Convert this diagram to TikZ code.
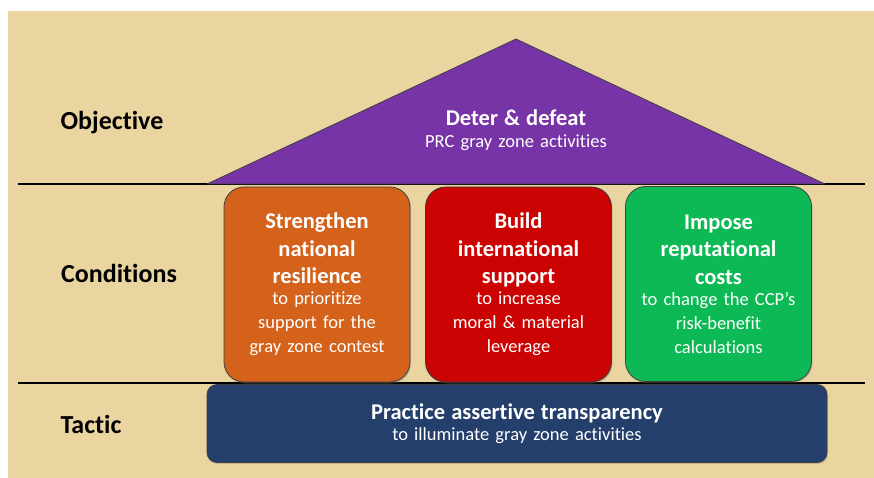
\documentclass[tikz,border=0pt]{standalone}
\usepackage{fontspec}
\setmainfont{Carlito}[Ligatures=NoCommon]
\usetikzlibrary{shadows}
\definecolor{paper}{HTML}{EAD5A0}
\definecolor{roofPurple}{HTML}{7734A6}
\definecolor{pilOrange}{HTML}{D4621A}
\definecolor{pilRed}{HTML}{CC0303}
\definecolor{pilGreen}{HTML}{0DB955}
\definecolor{baseNavy}{HTML}{253F6D}
\newcommand{\headtext}{\fontsize{22.5}{27.5}\selectfont\bfseries}
\newcommand{\subtext}{\fontsize{18.5}{24}\selectfont\mdseries}
\tikzset{
  boxnode/.style = {align=center, inner sep=0pt, text centered, text=white, draw=black!75, line width=0.8pt,
    font=\subtext, drop shadow={opacity=0.35, shadow xshift=1pt, shadow yshift=-1.5pt}},
  % pillars: big rounded boxes, text in white
  pillar_O/.style = {boxnode, rounded corners=20pt, fill=pilOrange, minimum width=186pt, minimum height=195pt, text width=182pt},
  pillar_R/.style = {pillar_O, fill=pilRed},
  pillar_G/.style = {pillar_O, fill=pilGreen},
  base_T/.style = {boxnode, rounded corners=10pt, fill=baseNavy, minimum width=620pt, minimum height=78pt, text width=600pt},
  roof_P/.style = {fill=roofPurple, draw=black!75, line width=0.8pt, line join=round},
  label_L/.style = {anchor=base, inner sep=0pt, font=\fontsize{26}{30}\selectfont\bfseries},
  line_L/.style = {draw=black, line width=1.3pt}
}

\begin{document}
\begin{tikzpicture}[x=1pt,y=-1pt]
    \useasboundingbox (0,0) rectangle (874,478);
    \fill[paper] (8,11) rectangle (874,478);
    % Row rules:
    \coordinate (ruleA_L) at (18,184);
    \coordinate (ruleA_R) at (865,184);
    \coordinate (ruleB_L) at (18,383);
    \coordinate (ruleB_R) at (865,383);
    \draw[line_L] (ruleA_L) -- (ruleA_R);
    \draw[line_L] (ruleB_L) -- (ruleB_R);
    % Row labels:
    \node [label_L] (objective) at (112,130) {Objective};
    \node [label_L] (conditions) at (119,282) {Conditions};
    \node [label_L] (tactic) at (91,433) {Tactic};
    % Roof:
    \coordinate (roof_L) at (207,184);
    \coordinate (roof_T) at (516,39);
    \coordinate (roof_R) at (825,184);
    \draw[roof_P] (roof_L) -- (roof_T) -- (roof_R) -- cycle;
    \node [align=center, inner sep=0pt, text=white, text width=300pt, font=\subtext] (deter) at (516,130)
      {\headtext Deter \& defeat\\[-2pt]\subtext PRC gray zone activities};
    % Pillars:
    \node [pillar_O] (resilience) at (317,284.5)
      {\headtext Strengthen\\national\\resilience\\[-3pt]\subtext to prioritize\\support for the\\gray zone contest};
    \node [pillar_R] (support) at (518.5,284.5)
      {\headtext Build\\international\\support\\[-3pt]\subtext to increase\\moral \& material\\leverage};
    \node [pillar_G] (costs) at (718.5,284)
      {\headtext Impose\\reputational\\costs\\[-3pt]\subtext to change the CCP’s\\risk-benefit\\calculations};
    % Foundation:
    \node [base_T] (transparency) at (517,423.5)
      {\headtext Practice assertive transparency\\[-3pt]\subtext to illuminate gray zone activities};
\end{tikzpicture}
\end{document}
